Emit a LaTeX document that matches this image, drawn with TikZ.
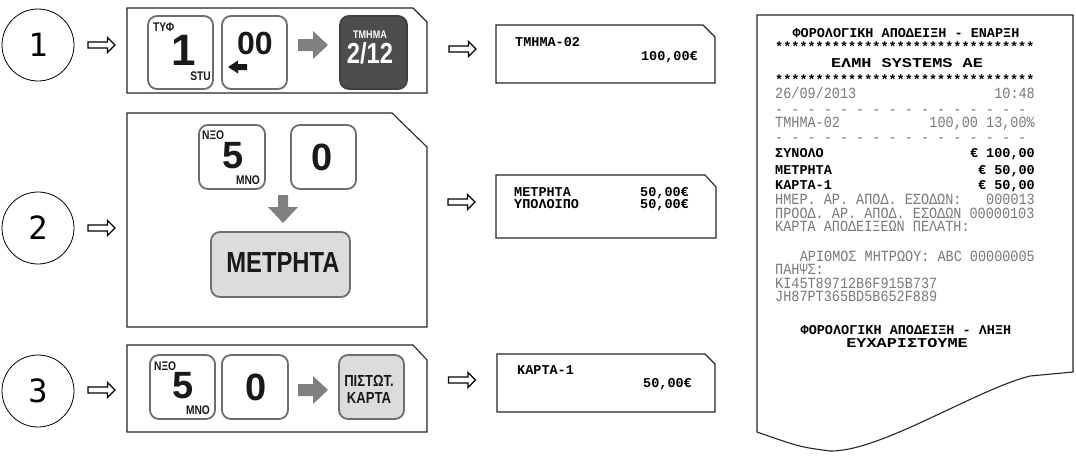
\documentclass[tikz,border=0pt]{standalone}
\usepackage{fontspec}
\setmainfont{Liberation Sans}
\newfontfamily\keyfont{Liberation Sans}[FakeStretch=0.82]
\newfontfamily\rmono{Liberation Mono}
\newfontfamily\circfont{DejaVu Sans Mono}
\newcommand\tallg[1]{\scalebox{1}[1.15]{#1}}
\definecolor{keyborder}{HTML}{6E6E6E}
\definecolor{keydark}{HTML}{4D4D4D}
\definecolor{keylight}{HTML}{DCDCDC}
\definecolor{arrowgray}{HTML}{808080}
\definecolor{rgray}{HTML}{7A7A7A}
\tikzset{
  stepcirc/.style={draw, circle, line width=0.8pt, minimum size=72pt, inner sep=0pt,
    font=\circfont\fontsize{32}{32}\selectfont},
  panelline/.style={draw=black!85, line width=1.1pt},
  keybox/.style={draw=keyborder, line width=1.8pt, rounded corners=9pt, fill=white, inner sep=0pt},
  klab/.style={font=\keyfont\bfseries\fontsize{12.5}{12.5}\selectfont, inner sep=0pt, text=black!90},
  kdig/.style={font=\bfseries\fontsize{#1}{#1}\selectfont, inner sep=0pt, text=black!90},
  kcond/.style={font=\keyfont\bfseries\fontsize{#1}{#1}\selectfont, inner sep=0pt, text=black!90},
  harrow/.pic={\draw[line width=1.3pt, fill=white] (-13.5,-3) -- (6,-3) -- (6,-7.5) -- (13.5,0) -- (6,7.5) -- (6,3) -- (-13.5,3) -- cycle;},
  rarrow/.pic={\fill[arrowgray] (-15,-6) -- (0,-6) -- (0,-14) -- (15,0) -- (0,14) -- (0,6) -- (-15,6) -- cycle;},
  rg/.style={font=\rmono\fontsize{13.5}{13.5}\selectfont, text=rgray, inner sep=0pt, text height=9pt, text depth=0pt},
  rb/.style={font=\rmono\bfseries\fontsize{13.5}{13.5}\selectfont, text=black, inner sep=0pt, text height=8pt, text depth=0pt},
}
\begin{document}
\begin{tikzpicture}[x=1pt,y=-1pt]
\useasboundingbox (0,0) rectangle (1076,461);
\fill[white] (0,0) rectangle (1076,461);

% step circles
\node[stepcirc] (c1) at (38,45) {1};
\node[stepcirc] (c2) at (38,228) {2};
\node[stepcirc] (c3) at (38,391) {3};

% hollow arrows
\pic at (101.5,45) {harrow};
\pic at (101.5,228) {harrow};
\pic at (101.5,390) {harrow};
\pic at (462.5,49) {harrow};
\pic at (461.5,202) {harrow};
\pic at (462,380) {harrow};

% panels
\draw[panelline] (127,8) -- (413,8) -- (427,22) -- (427,93) -- (127,93) -- cycle;
\draw[panelline] (127,113) -- (392,113) -- (427,147) -- (427,327) -- (127,327) -- cycle;
\draw[panelline] (127,345) -- (413,345) -- (427,360) -- (427,432) -- (127,432) -- cycle;

% output displays
\draw[panelline] (496,25) -- (703,25) -- (715,37) -- (715,83) -- (496,83) -- cycle;
\draw[panelline] (496,175) -- (705,175) -- (716,187) -- (716,238) -- (496,238) -- cycle;
\draw[panelline] (497,354) -- (705,354) -- (715,364) -- (715,412) -- (497,412) -- cycle;

% ---- row 1 keys
\node[keybox, minimum width=65pt, minimum height=73pt] (k11) at (180.5,52.5) {};
\node[klab, anchor=west] (k11a) at (153,27) {ΤΥΦ};
\node[kdig=44] (k11b) at (183.5,50) {1};
\node[klab] (k11c) at (200.5,76) {STU};

\node[keybox, minimum width=65pt, minimum height=73pt] (k12) at (254.5,52.5) {};
\node[kdig=32] (k12a) at (255,43) {00};
\fill[black!90] (228,67) -- (238,60.5) -- (238,64) -- (247,64) -- (247,70) -- (238,70) -- (238,73.5) -- cycle;

\pic at (313,45) {rarrow};

\node[keybox, draw=black!75, fill=keydark, minimum width=67pt, minimum height=73pt] (k13) at (373.5,52.5) {};
\node[kcond=11, text=white] (k13a) at (370,35) {ΤΜΗΜΑ};
\node[kcond=29, text=white] (k13b) at (370,53) {2/12};

% ---- row 2 keys
\node[keybox, minimum width=66pt, minimum height=64pt] (k21) at (232,157) {};
\node[klab, anchor=west] (k21a) at (202,135) {ΝΞΟ};
\node[kdig=38] (k21b) at (233,156) {5};
\node[klab] (k21c) at (248,180) {ΜΝΟ};

\node[keybox, minimum width=65pt, minimum height=64pt] (k22) at (323.5,157) {};
\node[kdig=38] (k22a) at (322,157) {0};

\fill[arrowgray] (278,195) -- (288,195) -- (288,207) -- (298,207) -- (283,223) -- (268,207) -- (278,207) -- cycle;

\node[keybox, fill=keylight, minimum width=139pt, minimum height=65pt] (k23) at (280.5,264.5) {};
\node[kcond=29] (k23a) at (283,263) {ΜΕΤΡΗΤΑ};

% ---- row 3 keys
\node[keybox, minimum width=65pt, minimum height=64pt] (k31) at (182.5,387) {};
\node[klab, anchor=west] (k31a) at (154,366) {ΝΞΟ};
\node[kdig=38] (k31b) at (183,386) {5};
\node[klab] (k31c) at (198,410) {ΜΝΟ};

\node[keybox, minimum width=66pt, minimum height=64pt] (k32) at (255,387) {};
\node[kdig=38] (k32a) at (256,387) {0};

\pic at (313,390) {rarrow};

\node[keybox, fill=keylight, minimum width=65pt, minimum height=64pt] (k33) at (371.5,387) {};
\node[kcond=16] (k33a) at (369,381) {ΠΙΣΤΩΤ.};
\node[kcond=16] (k33b) at (369,397.5) {ΚΑΡΤΑ};

% ---- display texts
\node[rb, anchor=west] (d1a) at (515,42) {ΤΜΗΜΑ-02};
\node[rb, anchor=east] (d1b) at (698,56) {100,00€};
\node[rb, anchor=west] (d2a) at (514,192) {ΜΕΤΡΗΤΑ};
\node[rb, anchor=east] (d2b) at (689,192) {50,00€};
\node[rb, anchor=west] (d2c) at (514,204) {ΥΠΟΛΟΙΠΟ};
\node[rb, anchor=east] (d2d) at (689,204) {50,00€};
\node[rb, anchor=west] (d3a) at (517,370) {ΚΑΡΤΑ-1};
\node[rb, anchor=east] (d3b) at (692,383) {50,00€};

% ---- receipt
\draw[line width=1.1pt, draw=black!85] (757,15) -- (1073,15) -- (1073,372) -- (1030,376)
  .. controls (975,390) and (880,452) .. (830,451)
  .. controls (800,447) .. (757,432) -- cycle;

\node[rb] (r1) at (906,33) {ΦΟΡΟΛΟΓΙΚΗ ΑΠΟΔΕΙΞΗ - ΕΝΑΡΞΗ};
\node[rb, anchor=west] (r2) at (775,47) {********************************};
\node[rb] (r3) at (907,63) {\scalebox{1.25}[1]{ΕΛΜΗ SYSTEMS AE}};
\node[rb, anchor=west] (r4) at (775,80) {********************************};
\node[rg, anchor=west] (r5a) at (775,94) {\tallg{26/09/2013}};
\node[rg, anchor=east] (r5b) at (1035,94) {\tallg{10:48}};
\node[rg, anchor=west] (r6) at (775,109.5) {\tallg{- - - - - - - - - - - - - - - -}};
\node[rg, anchor=west] (r7a) at (775,123) {\tallg{ΤΜΗΜΑ-02}};
\node[rg, anchor=east] (r7b) at (1035,123) {\tallg{100,00 13,00\%}};
\node[rg, anchor=west] (r8) at (775,138) {\tallg{- - - - - - - - - - - - - - - -}};
\node[rb, anchor=west] (r9a) at (775,153) {ΣΥΝΟΛΟ};
\node[rb, anchor=east] (r9b) at (1035,153) {€ 100,00};
\node[rb, anchor=west] (r10a) at (775,170) {ΜΕΤΡΗΤΑ};
\node[rb, anchor=east] (r10b) at (1035,170) {€ 50,00};
\node[rb, anchor=west] (r11a) at (775,185) {ΚΑΡΤΑ-1};
\node[rb, anchor=east] (r11b) at (1035,185) {€ 50,00};
\node[rg, anchor=west] (r12a) at (775,200) {\tallg{ΗΜΕΡ. ΑΡ. ΑΠΟΔ. ΕΣΟΔΩΝ:}};
\node[rg, anchor=east] (r12b) at (1035,200) {\tallg{000013}};
\node[rg, anchor=west] (r13) at (775,213.5) {\tallg{ΠΡΟΟΔ. ΑΡ. ΑΠΟΔ. ΕΣΟΔΩΝ 00000103}};
\node[rg, anchor=west] (r14) at (775,227) {\tallg{ΚΑΡΤΑ ΑΠΟΔΕΙΞΕΩΝ ΠΕΛΑΤΗ:}};
\node[rg, anchor=east] (r15) at (1035,257) {\tallg{ΑΡΙΘΜΟΣ ΜΗΤΡΩΟΥ: ABC 00000005}};
\node[rg, anchor=west] (r16) at (775,270) {\tallg{ΠΑΗΨΣ:}};
\node[rg, anchor=west] (r17) at (775,283.5) {\tallg{KI45T89712B6F915B737}};
\node[rg, anchor=west] (r18) at (775,297) {\tallg{JH87PT365BD5B652F889}};
\node[rb] (r19) at (906,330) {ΦΟΡΟΛΟΓΙΚΗ ΑΠΟΔΕΙΞΗ - ΛΗΞΗ};
\node[rb] (r20) at (907,343) {\scalebox{1.25}[1]{ΕΥΧΑΡΙΣΤΟΥΜΕ}};
\end{tikzpicture}
\end{document}
